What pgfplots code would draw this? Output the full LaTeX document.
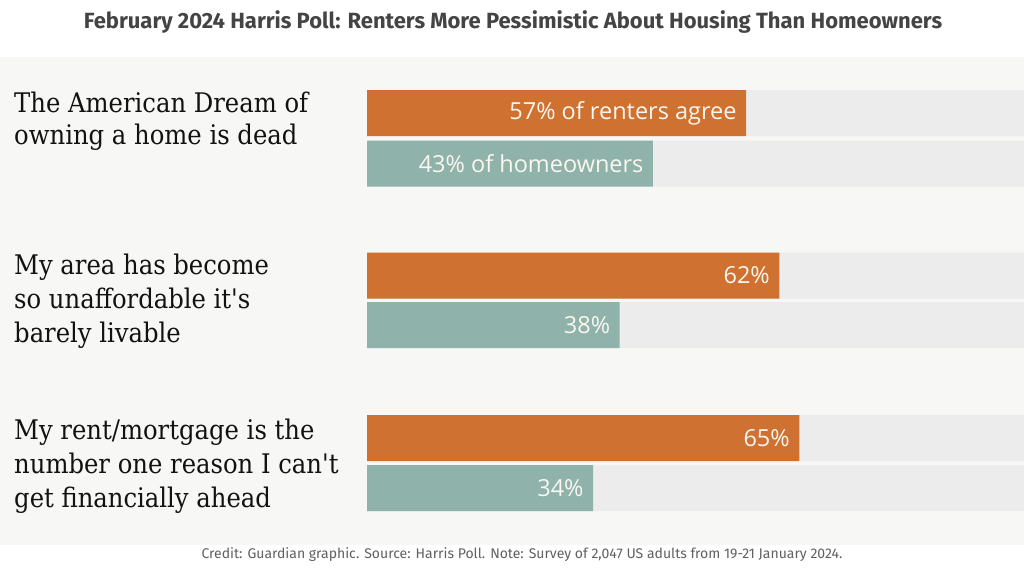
\documentclass[border=0pt]{standalone}
\usepackage{pgfplots}
\pgfplotsset{compat=1.18}
\usepackage{fontspec}
\setmainfont{Open Sans}
\newfontfamily\labfont{DejaVu Serif Condensed}
\newfontfamily\barfont{Open Sans}
\newfontfamily\titfont{Fira Sans}
\definecolor{orangebar}{HTML}{CF7130}
\definecolor{tealbar}{HTML}{8FB2AB}
\definecolor{greybar}{HTML}{ECECEC}
\definecolor{panel}{HTML}{F7F7F5}
\definecolor{titlecol}{HTML}{444444}
\definecolor{labcol}{HTML}{121212}
\definecolor{bartext}{HTML}{FAF6F0}
\begin{document}
\begin{tikzpicture}[x=1pt,y=1pt]
\fill[white] (0,0) rectangle (1024,576);
\useasboundingbox (0,0) rectangle (1024,576);
\fill[panel] (0,31) rectangle (1024,519);
\node[anchor=base,text=titlecol,font=\titfont\bfseries\fontsize{22}{26}\selectfont] at (513,547) {February 2024 Harris Poll: Renters More Pessimistic About Housing Than Homeowners};
\node[anchor=base,text=titlecol!85,font=\titfont\fontsize{14}{16}\selectfont] at (522,18) {Credit: Guardian graphic. Source: Harris Poll. Note: Survey of 2,047 US adults from 19-21 January 2024.};
\begin{axis}[
  at={(367pt,31pt)}, anchor=south west,
  width=665pt, height=488pt, scale only axis,
  xmin=0, xmax=100, ymin=57, ymax=545, y dir=reverse,
  hide axis, clip=false,
  xbar, bar width=46pt, bar shift=0pt,
  point meta=explicit symbolic,
]
\addplot[fill=greybar, draw=none, nodes near coords={}] coordinates {(100,113) (100,163.5) (100,275.5) (100,325) (100,438) (100,488)};
\addplot[fill=orangebar, draw=none, nodes near coords, every node near coord/.style={anchor=east, xshift=-6pt, text=bartext, font=\barfont\fontsize{23.5}{26}\selectfont}]
  coordinates {(57,113) [57\% of renters agree] (62,275.5) [62\%] (65,438) [65\%]};
\addplot[fill=tealbar, draw=none, nodes near coords, every node near coord/.style={anchor=east, xshift=-6pt, text=bartext, font=\barfont\fontsize{23.5}{26}\selectfont}]
  coordinates {(43,163.5) [43\% of homeowners] (38,325) [38\%] (34,488) [34\%]};
\end{axis}
\begin{scope}[every node/.style={anchor=base west, inner sep=0pt, text=labcol, font=\labfont\fontsize{27}{33}\selectfont}]
\node at (14,463) {The American Dream of};
\node at (14,431) {owning a home is dead};
\node at (14,301) {My area has become};
\node at (14,267) {so unaffordable it's};
\node at (14,234) {barely livable};
\node at (14,137) {My rent/mortgage is the};
\node at (14,103) {number one reason I can't};
\node at (14,69) {get financially ahead};
\end{scope}
\end{tikzpicture}
\end{document}
